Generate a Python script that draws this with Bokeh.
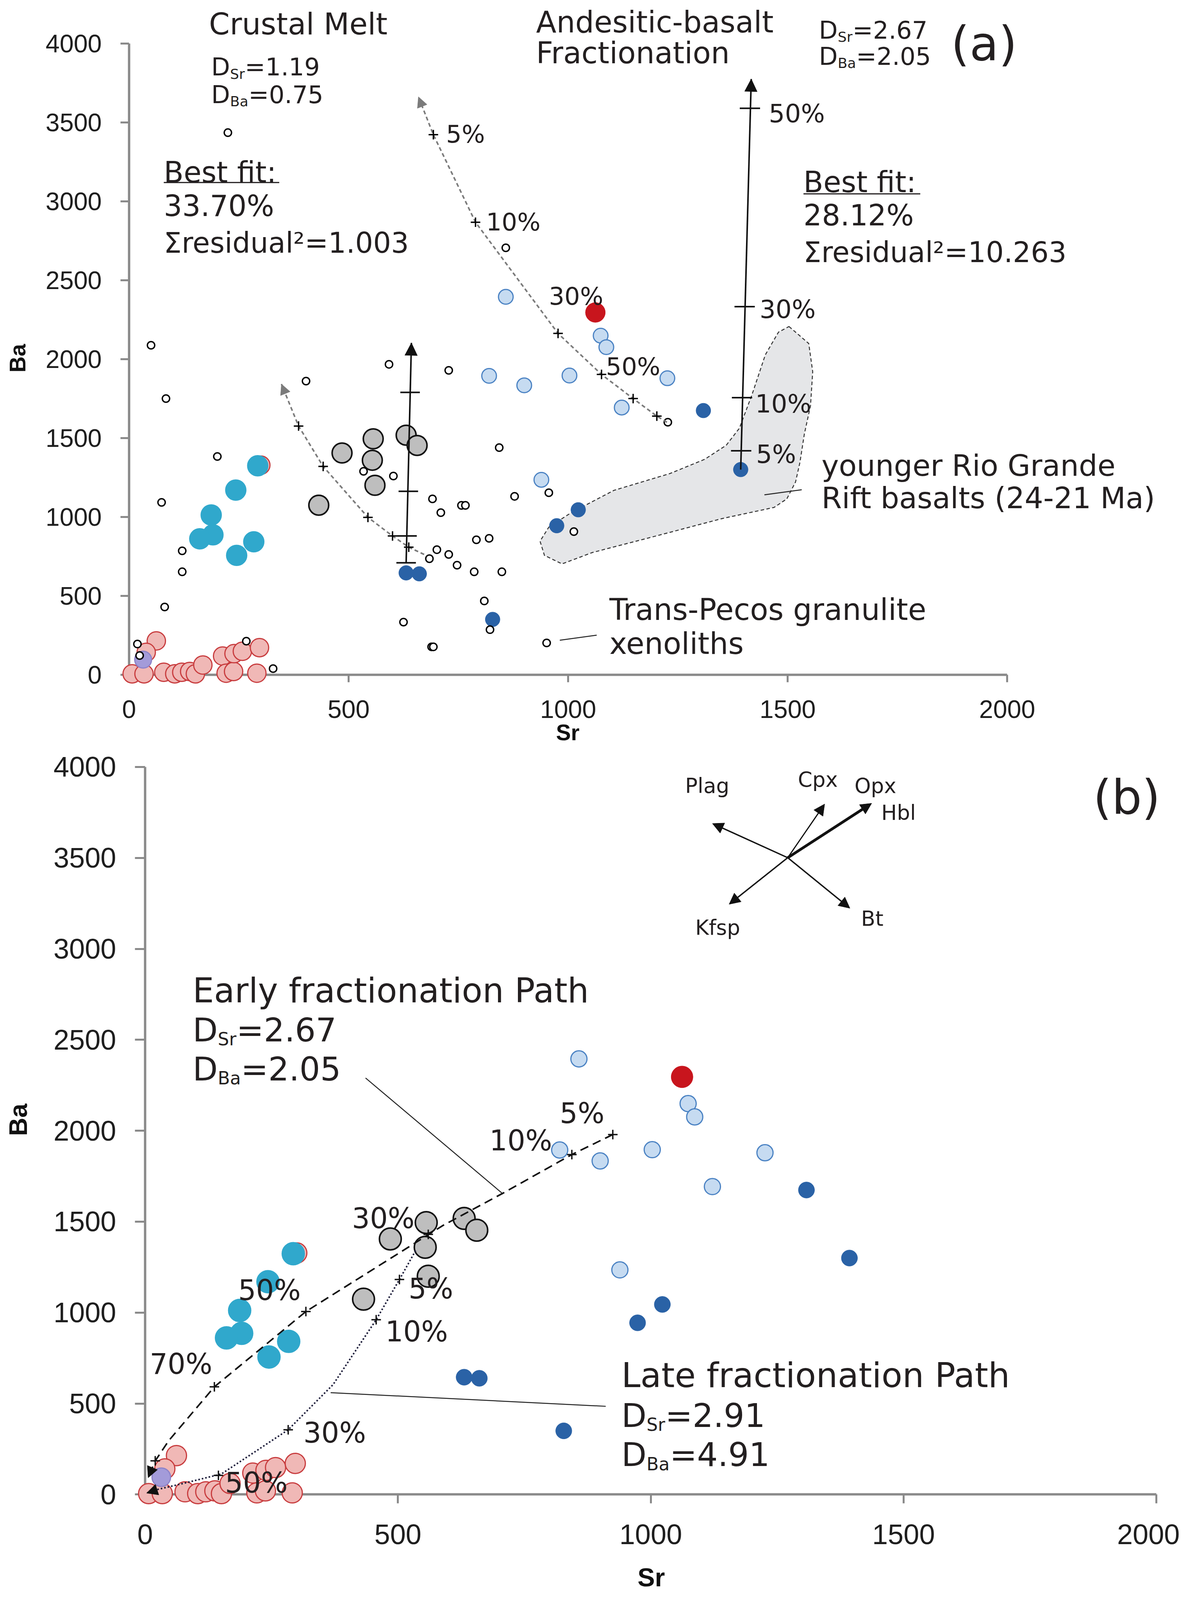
import math
from bokeh.plotting import figure
from bokeh.models import Range1d, LinearAxis, FixedTicker, Arrow, NormalHead
from bokeh.layouts import column
from bokeh.core.properties import value
from bokeh.embed import file_html
from bokeh.resources import INLINE

# ---------------- data: Sr (ppm) vs Ba (ppm) ----------------
X_TICKS = [0, 500, 1000, 1500, 2000]
Y_TICKS = [0, 500, 1000, 1500, 2000, 2500, 3000, 3500, 4000]

pink_sr = [300, 7, 34, 79, 104, 120, 138, 151, 168, 213, 221, 238, 239, 258, 291, 297, 62, 39]
pink_ba = [1328, 5, 5, 15, 5, 15, 20, 5, 61, 118, 9, 20, 133, 148, 9, 171, 214, 141]
purple_sr = [32]
purple_ba = [95]
cyan_sr = [293, 243, 187, 191, 161, 284, 245]
cyan_ba = [1324, 1170, 1012, 886, 861, 842, 756]
gray_sr = [485, 556, 554, 560, 631, 656, 432]
gray_ba = [1405, 1495, 1359, 1200, 1518, 1453, 1074]
lblue_sr = [858, 1074, 1087, 820, 900, 1003, 1226, 1122, 939]
lblue_ba = [2395, 2149, 2076, 1894, 1834, 1896, 1879, 1693, 1235]
dblue_sr = [631, 661, 828, 1308, 1393, 1023, 974]
dblue_ba = [645, 639, 350, 1674, 1300, 1045, 944]
red_sr = [1062]
red_ba = [2296]
xeno_sr = [50, 84, 403, 592, 728, 225, 201, 74, 534, 602, 843, 878, 691, 710, 757, 766,
           121, 121, 791, 820, 701, 728, 684, 747, 786, 849, 809, 822, 625, 689, 693, 81,
           19, 24, 267, 328, 858, 956, 1013, 1227, 951]
xeno_ba = [2088, 1750, 1861, 1967, 1929, 3436, 1383, 1092, 1289, 1259, 1439, 1130, 1114, 1027, 1073, 1073,
           785, 652, 855, 864, 792, 762, 735, 694, 652, 652, 467, 285, 333, 176, 176, 429,
           194, 121, 212, 38, 2706, 1153, 907, 1600, 201]

# younger Rio Grande Rift basalts field
rift_sr = [1503, 1548, 1557, 1552, 1538, 1528, 1518, 1498, 1469, 1350, 1203, 1055, 986, 946, 936,
           956, 1006, 1104, 1232, 1311, 1360, 1390, 1419, 1449, 1479]
rift_ba = [2207, 2099, 1920, 1705, 1526, 1347, 1222, 1114, 1060, 989, 881, 774, 702, 756, 846,
           935, 1025, 1168, 1275, 1365, 1454, 1562, 1777, 2027, 2171]

# model paths, panel (a)
crust_hi_sr = [1225, 1202, 1148, 1076, 977, 789, 693, 659]
crust_hi_ba = [1600, 1639, 1750, 1903, 2163, 2868, 3423, 3663]
crust_hi_tick_sr = [1202, 1148, 1076, 977, 789, 693]
crust_hi_tick_ba = [1639, 1750, 1903, 2163, 2868, 3423]
crust_lo_sr = [672, 637, 600, 544, 442, 386, 347]
crust_lo_ba = [762, 808, 879, 997, 1320, 1576, 1842]
crust_lo_tick_sr = [637, 600, 544, 442, 386]
crust_lo_tick_ba = [808, 879, 997, 1320, 1576]
frac_hi_sr = [1393, 1417]
frac_hi_ba = [1300, 3776]
frac_hi_tick_sr = [1394, 1396, 1402, 1414]
frac_hi_tick_ba = [1419, 1756, 2333, 3590]
frac_lo_sr = [631, 643]
frac_lo_ba = [709, 2103]
frac_lo_tick_sr = [631, 633, 636, 640]
frac_lo_tick_ba = [709, 879, 1162, 1789]

# model paths, panel (b)
early_sr = [925, 844, 708, 589, 318, 137, 47, 20, 6]
early_ba = [1979, 1869, 1657, 1479, 1006, 592, 297, 185, 92]
early_tick_sr = [925, 844, 560, 318, 137, 20]
early_tick_ba = [1979, 1869, 1430, 1006, 592, 185]
late_sr = [535, 503, 457, 372, 283, 151, 74, 25, 3]
late_ba = [1341, 1182, 961, 605, 356, 113, 60, 28, 8]
late_tick_sr = [503, 457, 283, 145]
late_tick_ba = [1182, 961, 356, 105]

# mineral vectors (panel b)
vec_origin = (1271, 3501)
vec_names = ["Plag", "Cpx", "Opx/Hbl", "Kfsp", "Bt"]
vec_end_sr = [1122, 1344, 1437, 1155, 1394]
vec_end_ba = [3689, 3796, 3800, 3245, 3223]
vec_width = [3.5, 3, 7, 3.5, 3.5]

# ---------------- styling ----------------
TXT = "#231f20"
AXC = "#8a8a8a"
FONT = "DejaVu Sans"
V = 0.872    # vertical compression so that the whole page fits the visible window
FS = 0.95    # font scale
MS = 0.94    # marker scale


def make_fig(w, h, x0px, sx, y0px, sy):
    xr = Range1d(-x0px / sx, (w - x0px) / sx)
    yr = Range1d((y0px - h) / sy, y0px / sy)
    p = figure(width=w, height=h, x_range=xr, y_range=yr, output_backend="svg",
               toolbar_location=None, x_axis_type=None, y_axis_type=None, min_border=0)
    p.outline_line_color = None
    p.background_fill_color = "white"
    p.border_fill_color = "white"
    return p


def add_axes(p, font, size, xtick, ytick, xstand, ystand):
    for side, ticks, bounds, tick, stand in (("below", X_TICKS, (0, 2000), xtick, xstand),
                                             ("left", Y_TICKS, (0, 4000), ytick, ystand)):
        ax = LinearAxis(ticker=FixedTicker(ticks=ticks), fixed_location=0, bounds=bounds)
        ax.axis_line_color = AXC
        ax.axis_line_width = 6
        ax.major_tick_line_color = AXC
        ax.major_tick_line_width = 5
        ax.major_tick_in = 0
        ax.major_tick_out = int(round(tick))
        ax.minor_tick_line_color = None
        ax.major_label_text_font = font
        ax.major_label_text_font_size = f"{size * FS:.1f}px"
        ax.major_label_text_color = "#1e1e1e"
        ax.major_label_standoff = int(round(stand))
        ax.level = "underlay"
        p.add_layout(ax, side)


def txt(p, x, y, s, size, align="left", baseline="middle", angle=0.0, font=FONT,
        style="normal", color=TXT):
    p.text(x=[x], y=[y], text=[s], text_font=value(font), text_font_size=value(f"{size * FS:.1f}px"),
           text_align=align, text_baseline=baseline, angle=angle, text_font_style=style,
           text_color=color)


SUBW = {"Sr": 1.046, "Ba": 1.299}


def d_text(p, x, y, sub, rest, fs, ss):
    fs, ss = fs * FS, ss * FS
    common = dict(text_font=value(FONT), text_align="left", text_baseline="middle", text_color=TXT)
    p.text(x=[x], y=[y], text=["D"], text_font_size=value(f"{fs:.1f}px"), **common)
    p.text(x=[x], y=[y], text=[sub], x_offset=0.77 * fs, y_offset=0.33 * fs * V,
           text_font_size=value(f"{ss:.1f}px"), **common)
    p.text(x=[x], y=[y], text=["=" + rest], x_offset=0.77 * fs + SUBW[sub] * ss,
           text_font_size=value(f"{fs:.1f}px"), **common)


def arrow_head(p, xs, ys, color, size, width=0):
    p.add_layout(Arrow(end=NormalHead(size=size * MS, fill_color=color, line_color=color, line_width=1),
                       x_start=xs[-2], y_start=ys[-2], x_end=xs[-1], y_end=ys[-1],
                       line_color=color, line_width=width, line_alpha=1 if width else 0))


def draw_points(p, big):
    k = (1.1 if big else 1.0) * MS
    p.scatter(pink_sr, pink_ba, size=50 * k, fill_color="#f0b8b6", line_color="#c83c3e", line_width=3)
    p.scatter(purple_sr, purple_ba, size=46 * k, fill_color="#a39bd9", line_color="#8d83c9", line_width=3)
    p.scatter(cyan_sr, cyan_ba, size=56 * k, fill_color="#30a8cc", line_color="#30a8cc", line_width=2)
    p.scatter(gray_sr, gray_ba, size=54 * k, fill_color="#bebebe", line_color="#111111", line_width=4)
    p.scatter(lblue_sr, lblue_ba, size=40 * k, fill_color="#c6dbf1", line_color="#4a82c3", line_width=3)
    p.scatter(dblue_sr, dblue_ba, size=40 * k, fill_color="#2a62a6", line_color="#2a62a6", line_width=1)
    p.scatter(red_sr, red_ba, size=54 * k, fill_color="#c8151d", line_color="#c8151d", line_width=1)


# ======================= panel (a) =======================
HA = 1915
pa = make_fig(3020, HA, 330, 1.1241, 1980 * V, 0.4631 * V)
add_axes(pa, "Liberation Sans", 68, 22 * V, 22, 54 * V, 48)

pa.patch(rift_sr, rift_ba, fill_color="#e5e6e8", line_color="#333333", line_width=2.5, line_dash="9 6")
draw_points(pa, False)
pa.scatter(xeno_sr, xeno_ba, size=20 * MS, fill_color="white", line_color="black", line_width=3.5)

pa.line(crust_hi_sr, crust_hi_ba, line_color="#7b7b7b", line_width=4, line_dash="10 7")
arrow_head(pa, crust_hi_sr, crust_hi_ba, "#7b7b7b", 28)
pa.scatter(crust_hi_tick_sr, crust_hi_tick_ba, marker="cross", size=26 * MS, line_color="black", line_width=3.5)
pa.line(crust_lo_sr, crust_lo_ba, line_color="#7b7b7b", line_width=4, line_dash="10 7")
arrow_head(pa, crust_lo_sr, crust_lo_ba, "#7b7b7b", 28)
pa.scatter(crust_lo_tick_sr, crust_lo_tick_ba, marker="cross", size=26 * MS, line_color="black", line_width=3.5)

pa.line(frac_hi_sr, frac_hi_ba, line_color="#111111", line_width=4)
arrow_head(pa, frac_hi_sr, frac_hi_ba, "#111111", 34)
pa.scatter(frac_hi_tick_sr, frac_hi_tick_ba, marker="dash", size=52, line_color="#111111", line_width=4)
pa.line(frac_lo_sr, frac_lo_ba, line_color="#111111", line_width=4)
arrow_head(pa, frac_lo_sr, frac_lo_ba, "#111111", 34)
pa.scatter(frac_lo_tick_sr, frac_lo_tick_ba, marker="dash", size=50, line_color="#111111", line_width=4)

pa.line([1447, 1532], [1140, 1172], line_color="#222222", line_width=2.5)
pa.line([981, 1065], [218, 250], line_color="#222222", line_width=2.5)

txt(pa, 182, 4124, "Crustal Melt", 80)
d_text(pa, 187, 3852, "Sr", "1.19", 66, 38)
d_text(pa, 187, 3677, "Ba", "0.75", 66, 38)
txt(pa, 79, 3185, "Best fit:", 78)
pa.line([79, 342], [3120, 3120], line_color=TXT, line_width=3)
txt(pa, 79, 2972, "33.70%", 78)
txt(pa, 79, 2736, "Σresidual²=1.003", 76)
txt(pa, 927, 4138, "Andesitic-basalt", 80)
txt(pa, 927, 3940, "Fractionation", 80)
d_text(pa, 1571, 4085, "Sr", "2.67", 66, 38)
d_text(pa, 1571, 3920, "Ba", "2.05", 66, 38)
txt(pa, 1872, 4000, "(a)", 128)
txt(pa, 1536, 3124, "Best fit:", 78)
pa.line([1536, 1802], [3048, 3048], line_color=TXT, line_width=3)
txt(pa, 1536, 2912, "28.12%", 78)
txt(pa, 1536, 2677, "Σresidual²=10.263", 76)
for s, x, y in (("50%", 1457, 3558), ("30%", 1436, 2316), ("10%", 1426, 1718), ("5%", 1428, 1397)):
    txt(pa, x, y, s, 68)
for s, x, y in (("5%", 722, 3425), ("10%", 813, 2870), ("30%", 956, 2399), ("50%", 1086, 1952)):
    txt(pa, x, y, s, 66)
txt(pa, 1577, 1325, "younger Rio Grande", 79)
txt(pa, 1577, 1120, "Rift basalts (24-21 Ma)", 79)
txt(pa, 1094, 412, "Trans-Pecos granulite", 80)
txt(pa, 1094, 198, "xenoliths", 80)
txt(pa, 999, -367, "Sr", 60, align="center", font="Liberation Sans", style="bold", color="#111111")
txt(pa, -254, 2006, "Ba", 60, align="center", angle=math.pi / 2, font="Liberation Sans", style="bold",
    color="#111111")

# ======================= panel (b) =======================
Y0B = 8 + (4395 - 8) * V - (8 + HA)
pb = make_fig(3020, 2160, 371, 1.2945, Y0B, 0.534 * V)
add_axes(pb, "Liberation Sans", 76, 26 * V, 26, 62 * V, 48)

draw_points(pb, True)

pb.line(early_sr, early_ba, line_color="#111111", line_width=4, line_dash="22 13")
arrow_head(pb, early_sr, early_ba, "#111111", 30)
pb.scatter(early_tick_sr, early_tick_ba, marker="cross", size=26 * MS, line_color="#111111", line_width=3.5)
pb.line(late_sr, late_ba, line_color="#1d1d3a", line_width=4, line_dash="4 5")
arrow_head(pb, late_sr, late_ba, "#111111", 30)
pb.scatter(late_tick_sr, late_tick_ba, marker="cross", size=26 * MS, line_color="#111111", line_width=3.5)

for xe, ye, lw in zip(vec_end_sr, vec_end_ba, vec_width):
    pb.add_layout(Arrow(end=NormalHead(size=30 * MS, fill_color="#111111", line_color="#111111"),
                        x_start=vec_origin[0], y_start=vec_origin[1], x_end=xe, y_end=ye,
                        line_color="#111111", line_width=lw))

pb.line([436, 708], [2290, 1652], line_color="#222222", line_width=2.5)
pb.line([367, 911], [560, 485], line_color="#222222", line_width=2.5)

txt(pb, 94, 2770, "Early fractionation Path", 91)
d_text(pb, 94, 2554, "Sr", "2.67", 88, 48)
d_text(pb, 94, 2339, "Ba", "2.05", 88, 48)
txt(pb, 942, 654, "Late fractionation Path", 92)
d_text(pb, 942, 434, "Sr", "2.91", 88, 48)
d_text(pb, 942, 219, "Ba", "4.91", 88, 48)
txt(pb, 1875, 3833, "(b)", 128)
for s, x, y in (("Plag", 1068, 3895), ("Cpx", 1291, 3931), ("Opx", 1403, 3895), ("Hbl", 1456, 3747),
                ("Kfsp", 1088, 3116), ("Bt", 1416, 3165)):
    txt(pb, x, y, s, 56)
for s, x, y in (("5%", 820, 2097), ("10%", 681, 1946), ("30%", 409, 1519), ("50%", 184, 1124),
                ("70%", 9, 717)):
    txt(pb, x, y, s, 76)
for s, x, y in (("5%", 521, 1131), ("10%", 475, 895), ("30%", 313, 339), ("50%", 158, 64)):
    txt(pb, x, y, s, 76)
txt(pb, 1001, -456, "Sr", 70, align="center", font="Liberation Sans", style="bold", color="#111111")
txt(pb, -251, 2060, "Ba", 68, align="center", angle=math.pi / 2, font="Liberation Sans", style="bold",
    color="#111111")

layout = column(pa, pb)
open("out.html", "w").write(file_html(layout, INLINE))
